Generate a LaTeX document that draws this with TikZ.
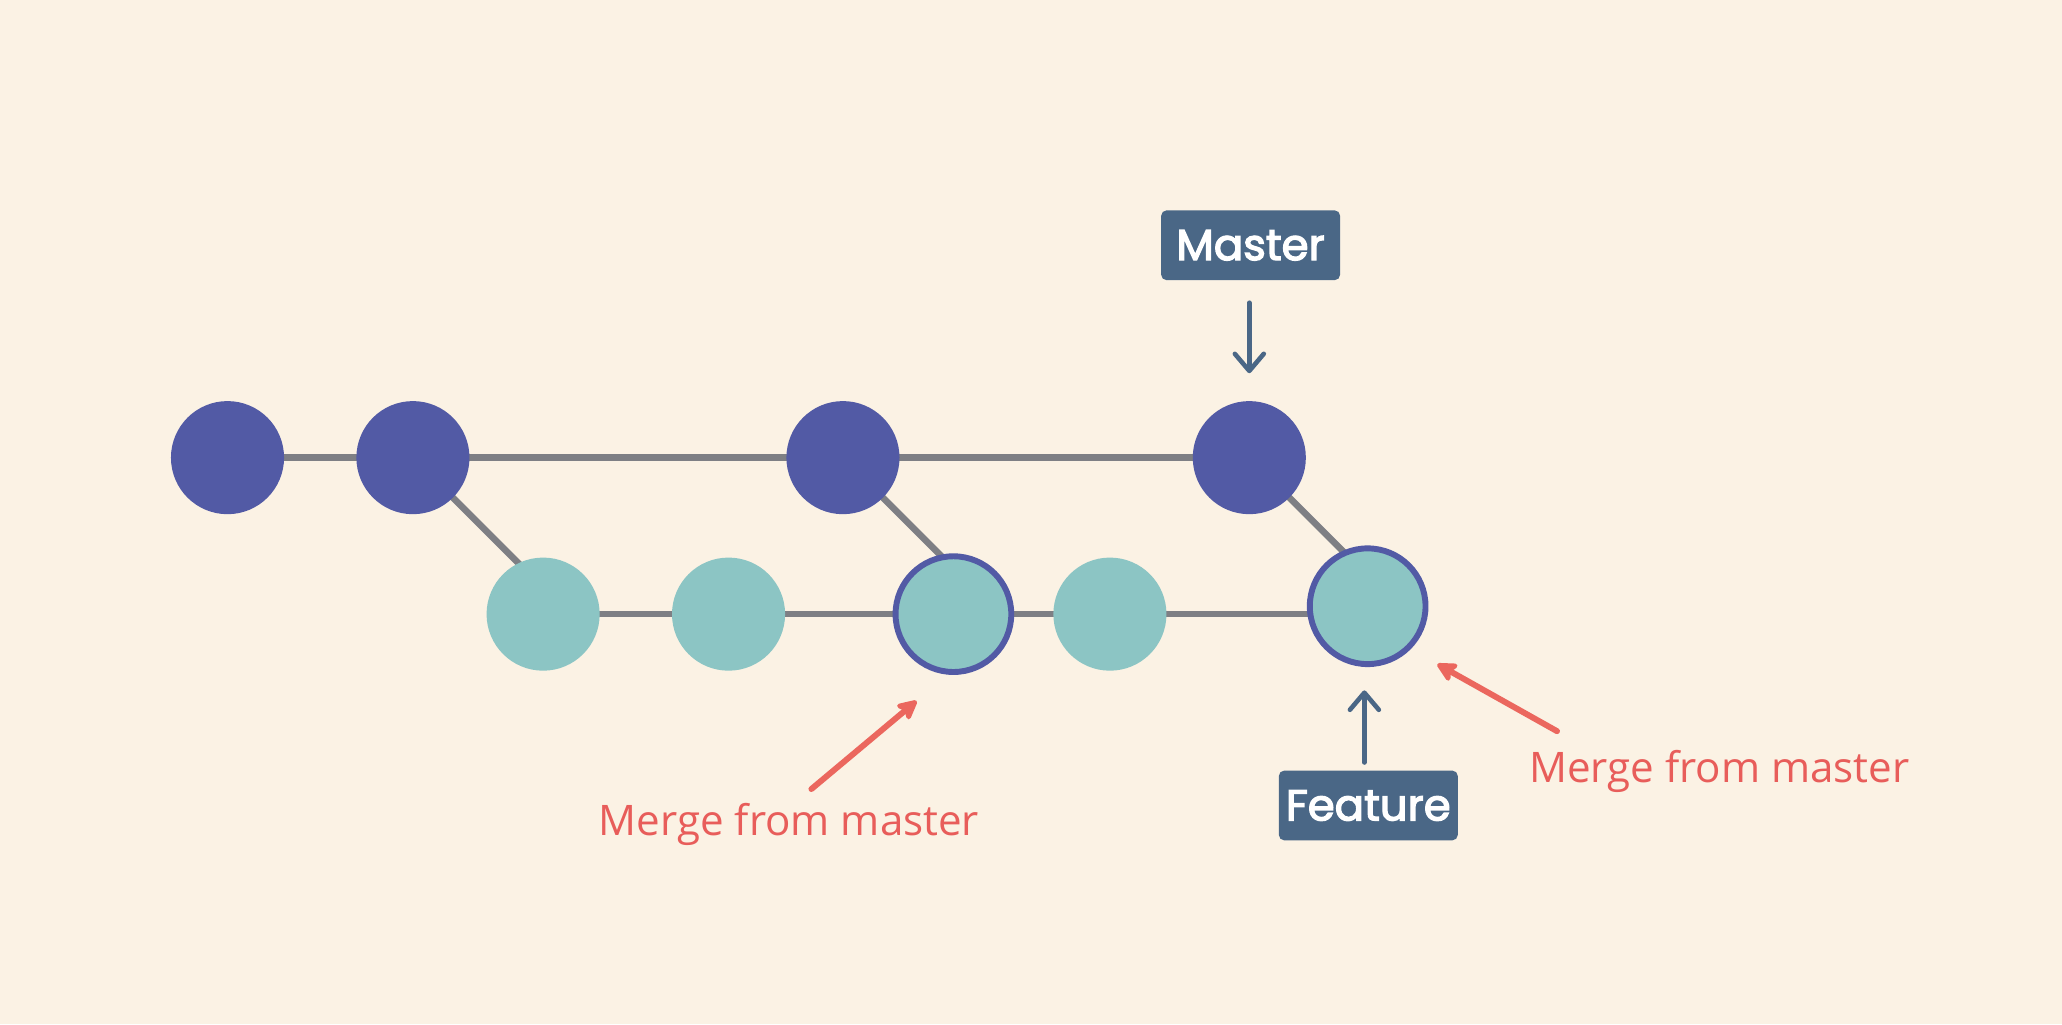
\documentclass[tikz,border=0pt]{standalone}
\usepackage{fontspec}
\setmainfont{Open Sans}
\newfontfamily\labelfont{Poppins}[FakeBold=3]
\usetikzlibrary{arrows.meta,backgrounds}
\definecolor{bgc}{HTML}{FBF2E4}
\definecolor{purp}{HTML}{525AA5}
\definecolor{tealc}{HTML}{8CC5C4}
\definecolor{edgegray}{HTML}{7E7F84}
\definecolor{boxc}{HTML}{4A6786}
\definecolor{redc}{HTML}{EB675E}
\definecolor{redt}{HTML}{E85D5A}
\begin{document}
\begin{tikzpicture}[x=1pt,y=-1pt,
 commit/.style={circle,minimum size=86pt,inner sep=0pt},
 mcommit/.style={commit,fill=purp},
 fcommit/.style={commit,fill=tealc},
 mergec/.style={circle,minimum size=88pt,inner sep=0pt,fill=tealc,draw=purp,line width=4.5pt},
 link/.style={draw=edgegray,line width=5pt},
 tag/.style={fill=boxc,rounded corners=4pt,text=white,font=\labelfont\fontsize{33}{40}\selectfont,minimum width=136pt,minimum height=53pt,inner sep=0pt},
 pointer/.style={draw=boxc,line width=3.5pt,line cap=round,-{Straight Barb[length=13pt,width=22pt,line cap=round,line join=round]}},
 note/.style={text=redt,font=\fontsize{32}{38}\selectfont,inner sep=0pt},
 notearrow/.style={draw=redc,line width=4.5pt,line cap=round,-{Stealth[length=18pt,width=18pt,inset=4pt,round]}}
]
\useasboundingbox (0,0) rectangle (1568,778.7);
% commits
\node[mcommit] (t1) at (173,348) {};
\node[mcommit] (t2) at (314,348) {};
\node[mcommit] (t3) at (641,348) {};
\node[mcommit] (t4) at (950,348) {};
\node[fcommit] (b1) at (413,467) {};
\node[fcommit] (b2) at (554,467) {};
\node[mergec] (b3) at (725,467) {};
\node[fcommit] (b4) at (844,467) {};
\node[mergec] (b5) at (1040,461) {};
% junction points for 45 degree branch lines
\path (t2.center) ++(45:125) coordinate (j1);
\path (t3.center) ++(45:110) coordinate (j2);
\path (t4.center) ++(45:110) coordinate (j3);
\begin{scope}[on background layer]
 \fill[bgc] (0,0) rectangle (1568,778.7);
 \draw[link] (t1.center) -- (t2.center) -- (t3.center) -- (t4.center);
 \draw[link] (b1.center) -- (b2.center) -- (b3.center) -- (b4.center) -- (b4.center -| b5.center);
 \draw[link] (t2.center) -- (j1);
 \draw[link] (t3.center) -- (j2);
 \draw[link] (t4.center) -- (j3);
\end{scope}
% labels
\node[tag] (master) at (951,186.5) {Master};
\node[tag] (feature) at (1040.5,612.5) {Feature};
\draw[pointer,shorten <=17pt,shorten >=21pt] (master.south -| t4) -- (t4.north);
\draw[pointer] (feature.north) ++(-3,-6) coordinate (fs) (fs) -- (fs |- 0,525) coordinate (fe);
% notes
\node[note,anchor=base] (n1) at (600,635) {Merge from master};
\node[note,anchor=base] (n2) at (1307.5,595) {Merge from master};
\coordinate (a1s) at (617,600);
\coordinate (a1e) at (697,533);
\coordinate (a2s) at (1184,556);
\coordinate (a2e) at (1093,505);
\draw[notearrow] (a1s) -- (a1e);
\draw[notearrow] (a2s) -- (a2e);
\end{tikzpicture}
\end{document}
